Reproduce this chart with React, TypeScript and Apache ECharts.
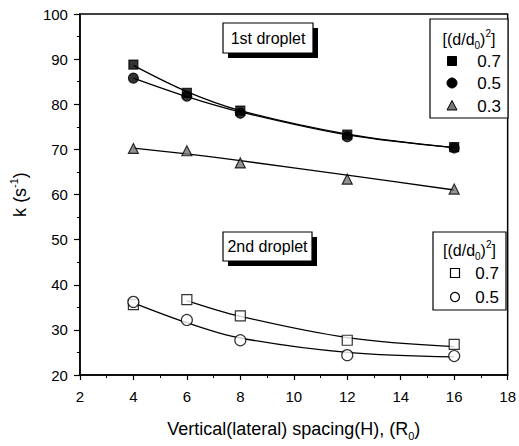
import React, { useEffect, useRef } from "react";
import * as echarts from "echarts";

// Vertical (lateral) spacing H, in units of R0
const spacing = [4, 6, 8, 12, 16];

// Evaporation constant k (1/s), first droplet: measured points
const first07 = [88.8, 82.5, 78.6, 73.3, 70.5];
const first05 = [85.8, 81.8, 78.0, 72.8, 70.3];
const first03 = [70.2, 69.7, 67.0, 63.4, 61.2];

// Evaporation constant k (1/s), second droplet: measured points
const second07 = [35.6, 36.7, 33.1, 27.7, 26.8];
const second05 = [36.2, 32.2, 27.7, 24.4, 24.2];

// Fitted decay curves evaluated at the same spacings
const fitFirst07 = [88.6, 82.8, 78.6, 73.4, 70.4];
const fitFirst05 = [85.8, 81.7, 78.3, 73.2, 70.4];
const fitFirst03 = [70.3, 69.0, 67.5, 64.3, 61.0];
const fitSecond07 = [null, 36.5, 33.0, 28.3, 26.3];
const fitSecond05 = [36.0, 31.6, 28.2, 25.0, 24.0];

const legendFirst = ["0.7", "0.5", "0.3"];
const legendSecond = ["0.7", "0.5"];

const FONT = "'Liberation Sans', Arial, Helvetica, sans-serif";

const pairs = (ys: (number | null)[]) =>
  spacing.map((x, i) => [x, ys[i]]).filter((p) => p[1] !== null);

const richSubSup = (size: number) => ({
  sub: { fontSize: Math.round(size * 0.62), lineHeight: 10, verticalAlign: "bottom", fontFamily: FONT, color: "#000" },
  sup: { fontSize: Math.round(size * 0.62), lineHeight: 10, verticalAlign: "top", fontFamily: FONT, color: "#000" },
});

function fitLine(data: any[]) {
  return {
    type: "line",
    data,
    smooth: 0.35,
    showSymbol: false,
    symbol: "none",
    silent: true,
    lineStyle: { color: "#000", width: 1.3 },
    z: 2,
  };
}

function marks(data: any[], symbol: string, size: number, fill: string) {
  return {
    type: "scatter",
    data,
    symbol,
    symbolSize: size,
    itemStyle: { color: fill, borderColor: "#000", borderWidth: 1.2 },
    z: 3,
  };
}

function labelBox(text: string, left: number, top: number, w: number, h: number) {
  return {
    type: "group",
    children: [
      { type: "rect", shape: { x: left + 5, y: top + 5, width: w, height: h }, style: { fill: "#000" } },
      { type: "rect", shape: { x: left, y: top, width: w, height: h }, style: { fill: "#fff", stroke: "#000", lineWidth: 1.2 } },
      {
        type: "text",
        x: left + w / 2,
        y: top + h / 2,
        style: { text, fill: "#000", font: `16px ${FONT}`, align: "center", verticalAlign: "middle" },
      },
    ],
  };
}

function legendMarker(kind: string, cx: number, cy: number) {
  const filled = { fill: "#000", stroke: "#000", lineWidth: 1 };
  const open = { fill: "#fff", stroke: "#000", lineWidth: 1.2 };
  switch (kind) {
    case "square":
      return { type: "rect", shape: { x: cx - 4.5, y: cy - 4.5, width: 9, height: 9 }, style: filled };
    case "circle":
      return { type: "circle", shape: { cx, cy, r: 5 }, style: filled };
    case "triangle":
      return {
        type: "polygon",
        shape: { points: [[cx, cy - 5.5], [cx + 5, cy + 4], [cx - 5, cy + 4]] },
        style: { fill: "#777", stroke: "#000", lineWidth: 1 },
      };
    case "openSquare":
      return { type: "rect", shape: { x: cx - 4.5, y: cy - 4.5, width: 9, height: 9 }, style: open };
    default:
      return { type: "circle", shape: { cx, cy, r: 4.5 }, style: open };
  }
}

function legendBox(
  left: number,
  top: number,
  w: number,
  h: number,
  labels: string[],
  kinds: string[],
  rowY: number[],
  titleY: number
) {
  const children: any[] = [
    { type: "rect", shape: { x: left, y: top, width: w, height: h }, style: { fill: "#fff", stroke: "#000", lineWidth: 1.2 } },
    {
      type: "text",
      x: left + w / 2,
      y: titleY,
      style: {
        text: "[(d/d{sub|0}){sup|2}]",
        fill: "#000",
        font: `16px ${FONT}`,
        lineHeight: 22,
        align: "center",
        verticalAlign: "middle",
        rich: richSubSup(16),
      },
    },
  ];
  labels.forEach((lab, i) => {
    children.push(legendMarker(kinds[i], left + 22, rowY[i]));
    children.push({
      type: "text",
      x: left + w - 7,
      y: rowY[i],
      style: { text: lab, fill: "#000", font: `17px ${FONT}`, align: "right", verticalAlign: "middle" },
    });
  });
  return { type: "group", children };
}

export default function App() {
  const ref = useRef<HTMLDivElement>(null);

  useEffect(() => {
    if (!ref.current) return;
    const chart = echarts.init(ref.current, undefined, { renderer: "svg" });

    const axisLabel = { color: "#000", fontSize: 15, fontFamily: FONT };

    chart.setOption({
      animation: false,
      backgroundColor: "#fff",
      textStyle: { fontFamily: FONT, color: "#000" },
      grid: {
        left: 73,
        right: 8,
        top: 14,
        bottom: 67,
        show: true,
        borderColor: "#000",
        borderWidth: 1.5,
        backgroundColor: "transparent",
      },
      xAxis: {
        type: "value",
        min: 2,
        max: 18,
        interval: 2,
        name: "Vertical(lateral) spacing(H), (R{sub|0})",
        nameLocation: "middle",
        nameGap: 42,
        nameTextStyle: {
          color: "#000",
          fontSize: 18,
          fontFamily: FONT,
          lineHeight: 24,
          rich: richSubSup(18),
        },
        axisLine: { show: true, lineStyle: { color: "#000", width: 1.5 } },
        axisTick: { show: true, inside: false, length: 5, lineStyle: { color: "#000", width: 1.2 } },
        minorTick: { show: true, splitNumber: 2, length: 3, lineStyle: { color: "#000", width: 1 } },
        splitLine: { show: false },
        axisLabel: { ...axisLabel, margin: 14 },
      },
      yAxis: {
        type: "value",
        min: 20,
        max: 100,
        interval: 10,
        name: "k (s{sup|-1})",
        nameLocation: "middle",
        nameGap: 38,
        nameRotate: 90,
        nameTextStyle: {
          color: "#000",
          fontSize: 18,
          fontFamily: FONT,
          lineHeight: 24,
          rich: richSubSup(18),
        },
        axisLine: { show: true, lineStyle: { color: "#000", width: 1.5 } },
        axisTick: { show: true, inside: false, length: 6, lineStyle: { color: "#000", width: 1.2 } },
        minorTick: { show: true, splitNumber: 2, length: 3, lineStyle: { color: "#000", width: 1 } },
        splitLine: { show: false },
        axisLabel: { ...axisLabel, margin: 12 },
      },
      series: [
        fitLine(pairs(fitFirst07)),
        fitLine(pairs(fitFirst05)),
        fitLine(pairs(fitFirst03)),
        fitLine(pairs(fitSecond07)),
        fitLine(pairs(fitSecond05)),
        marks(pairs(first03), "triangle", 10, "#777"),
        marks(pairs(first05), "circle", 10, "#000"),
        marks(pairs(first07), "rect", 9, "#000"),
        marks(pairs(second07), "rect", 10, "#fff"),
        marks(pairs(second05), "circle", 11, "#fff"),
      ],
      graphic: [
        labelBox("1st droplet", 223, 23, 90, 30),
        labelBox("2nd droplet", 223, 232, 89, 29),
        legendBox(430, 19, 78, 99, legendFirst, ["square", "circle", "triangle"], [61, 83, 106], 39),
        legendBox(433, 232, 73, 78, legendSecond, ["openSquare", "openCircle"], [273, 297], 250),
      ],
    });

    return () => chart.dispose();
  }, []);

  return (
    <div
      ref={ref}
      style={{ position: "fixed", left: 0, top: 0, width: 519, height: 446, background: "#fff" }}
    />
  );
}
